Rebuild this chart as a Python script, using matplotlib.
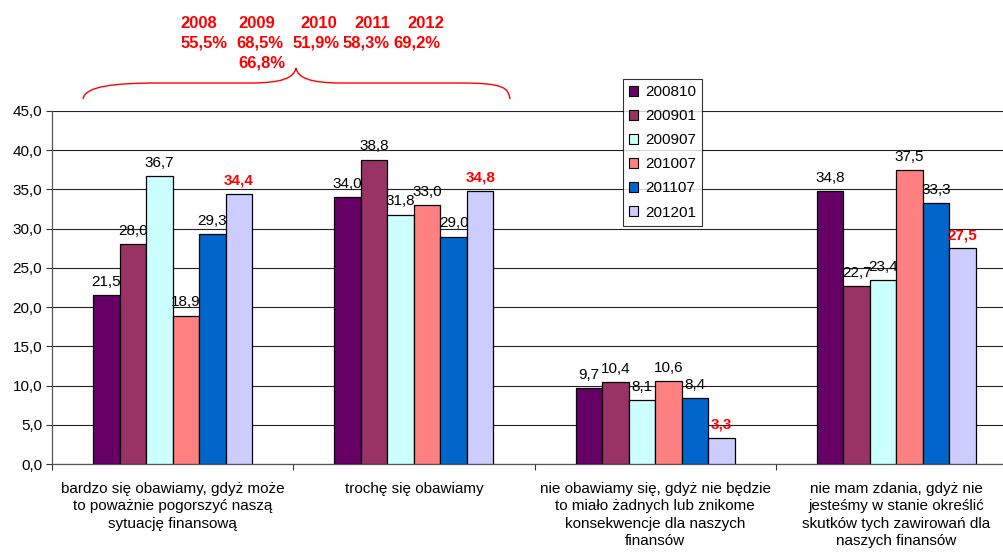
import matplotlib
matplotlib.use("Agg")
import matplotlib.pyplot as plt
from matplotlib.path import Path
from matplotlib.patches import PathPatch, Patch
import numpy as np

plt.rcParams['font.family'] = ['Liberation Sans', 'DejaVu Sans']

categories = [
    "bardzo się obawiamy, gdyż może\nto poważnie pogorszyć naszą\nsytuację finansową",
    "trochę się obawiamy",
    "nie obawiamy się, gdyż nie będzie\nto miało żadnych lub znikome\nkonsekwencje dla naszych\nfinansów",
    "nie mam zdania, gdyż nie\njesteśmy w stanie określić\nskutków tych zawirowań dla\nnaszych finansów",
]
series_names = ["200810", "200901", "200907", "201007", "201107", "201201"]
s200810 = [21.5, 34.0, 9.7, 34.8]
s200901 = [28.0, 38.8, 10.4, 22.7]
s200907 = [36.7, 31.8, 8.1, 23.4]
s201007 = [18.9, 33.0, 10.6, 37.5]
s201107 = [29.3, 29.0, 8.4, 33.3]
s201201 = [34.4, 34.8, 3.3, 27.5]
series_values = [s200810, s200901, s200907, s201007, s201107, s201201]
colors = ["#660066", "#993366", "#CCFFFF", "#FF8080", "#0066CC", "#CCCCFF"]

top_years = ["2008", "2009", "2010", "2011", "2012"]
top_pcts = ["55,5%", "68,5%", "51,9%", "58,3%", "69,2%"]
extra_pct = "66,8%"

W, H = 1004, 552
fig = plt.figure(figsize=(W / 100, H / 100), dpi=100)

def fx(x):
    return x / W

def fy(y):
    return 1 - y / H

FS = 11
ax_l, ax_r, ax_t, ax_b = 52, 1017, 111, 464
ax = fig.add_axes([fx(ax_l), fy(ax_b), (ax_r - ax_l) / W, (ax_b - ax_t) / H])

bw = 0.11
centers = np.arange(len(categories)) + 0.5
for i, (name, vals, col) in enumerate(zip(series_names, series_values, colors)):
    xs = centers + (i - 2.5) * bw
    ax.bar(xs, vals, width=bw, color=col, edgecolor="black", linewidth=0.9, zorder=3, label=name)
    for x, v in zip(xs, vals):
        lab = f"{v:.1f}".replace(".", ",")
        if i == 5:
            ax.annotate(lab, (x, v), xytext=(0, 4.5), textcoords="offset points",
                        ha="center", va="bottom", fontsize=FS, color="#FF0000", fontweight="bold", zorder=5)
        else:
            ax.annotate(lab, (x, v), xytext=(0, 4.5), textcoords="offset points",
                        ha="center", va="bottom", fontsize=FS, color="black", zorder=5)

ax.set_xlim(0, 4)
ax.set_ylim(0, 45)
yt = np.arange(0, 46, 5)
ax.set_yticks(yt)
ax.set_yticklabels([f"{v:.1f}".replace(".", ",") for v in yt], fontsize=FS)
ax.set_xticks([0, 1, 2, 3, 4])
ax.set_xticklabels([])
ax.tick_params(axis="y", length=4, width=0.8, color="#333333", pad=3)
ax.tick_params(axis="x", length=4, width=0.8, color="#333333")
ax.yaxis.grid(True, color="#222222", linewidth=0.8, zorder=0)
ax.set_axisbelow(True)
for s in ["top", "right"]:
    ax.spines[s].set_visible(False)
for s in ["left", "bottom"]:
    ax.spines[s].set_color("#555555")
    ax.spines[s].set_linewidth(0.9)

for c, lab in zip(centers, categories):
    ax.annotate(lab, (c, 0), xycoords=("data", "axes fraction"), xytext=(0, -13),
                textcoords="offset points", ha="center", va="top", fontsize=FS,
                multialignment="center", linespacing=1.3, annotation_clip=False)

# legend
handles = [Patch(facecolor=c, edgecolor="black", linewidth=0.8) for c in colors]
leg = fig.legend(handles, series_names, loc="upper left",
                 bbox_to_anchor=(fx(623), fy(79)), fontsize=FS, frameon=True,
                 fancybox=False, edgecolor="black", handlelength=0.6, handleheight=0.6,
                 handletextpad=0.45, labelspacing=0.66, borderpad=0.4, borderaxespad=0)
leg.get_frame().set_linewidth(0.8)

# top red texts
TF = 12
year_x = [199, 257, 319, 372, 426]
pct_x = [204, 260, 316, 366, 417]
for x, t in zip(year_x, top_years):
    fig.text(fx(x), fy(23), t, ha="center", va="center", fontsize=TF, fontweight="bold", color="#FF0000")
for x, t in zip(pct_x, top_pcts):
    fig.text(fx(x), fy(43), t, ha="center", va="center", fontsize=TF, fontweight="bold", color="#FF0000")
fig.text(fx(262), fy(63), extra_pct, ha="center", va="center", fontsize=TF, fontweight="bold", color="#FF0000")

# brace
pts = [(83, 99), (85, 86), (115, 83), (160, 83),
       (250, 83), (282, 83), (294, 78), (296, 68),
       (298, 78), (310, 83), (342, 83),
       (460, 83), (505, 83), (508, 88), (510, 99)]
codes = [Path.MOVETO, Path.CURVE4, Path.CURVE4, Path.CURVE4,
         Path.LINETO, Path.CURVE4, Path.CURVE4, Path.CURVE4,
         Path.CURVE4, Path.CURVE4, Path.CURVE4,
         Path.LINETO, Path.CURVE4, Path.CURVE4, Path.CURVE4]
path = Path([(fx(x), fy(y)) for x, y in pts], codes)
fig.add_artist(PathPatch(path, transform=fig.transFigure, facecolor="none",
                         edgecolor="#FF0000", linewidth=1.0))

fig.savefig("out.png", dpi=100)
